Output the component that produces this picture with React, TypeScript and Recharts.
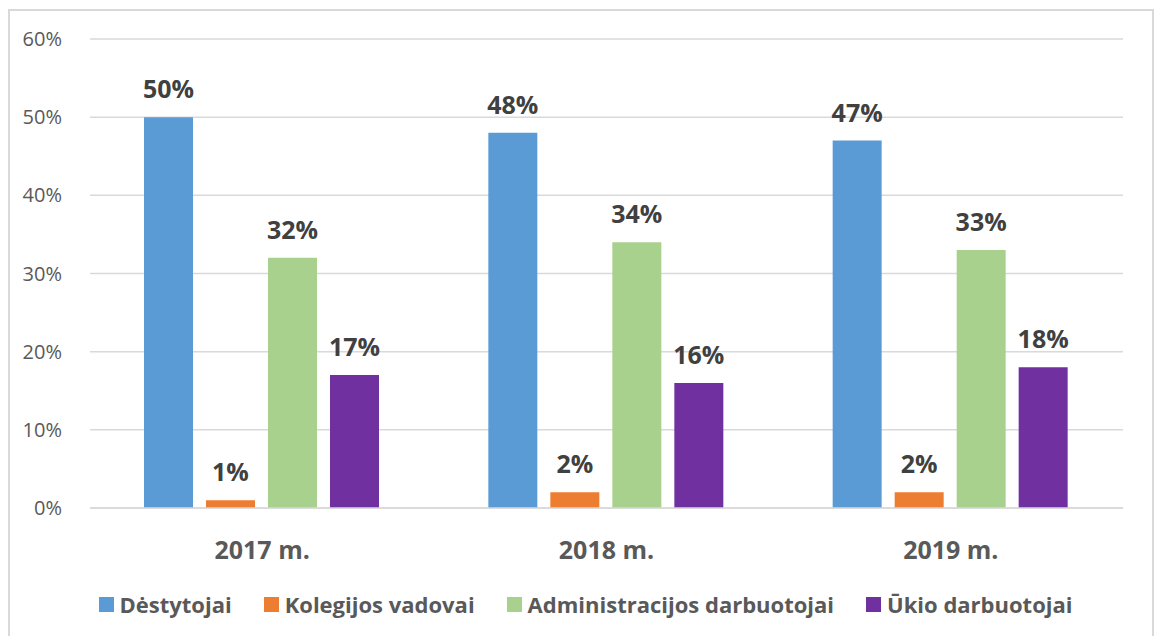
import React from 'react';
import { BarChart, Bar, XAxis, YAxis, CartesianGrid, Legend, LabelList } from 'recharts';

const years = ['2017 m.', '2018 m.', '2019 m.'];
const destytojai = [50, 48, 47];
const vadovai = [1, 2, 2];
const administracija = [32, 34, 33];
const ukis = [17, 16, 18];
const yTicks = [0, 10, 20, 30, 40, 50, 60];

const seriesDefs = [
  { key: 'destytojai', name: 'Dėstytojai', color: '#5B9BD5' },
  { key: 'vadovai', name: 'Kolegijos vadovai', color: '#ED7D31' },
  { key: 'administracija', name: 'Administracijos darbuotojai', color: '#A9D18E' },
  { key: 'ukis', name: 'Ūkio darbuotojai', color: '#7030A0' }
];

const data = years.map((year, i) => ({
  year,
  destytojai: destytojai[i],
  vadovai: vadovai[i],
  administracija: administracija[i],
  ukis: ukis[i]
}));

const font = '"Open Sans", "Noto Sans", sans-serif';

const renderLegend = () => (
  <div
    style={{
      display: 'flex',
      justifyContent: 'center',
      alignItems: 'center',
      gap: 32,
      height: 30,
      paddingLeft: 28,
      fontFamily: font
    }}
  >
    {seriesDefs.map(s => (
      <div key={s.key} style={{ display: 'flex', alignItems: 'center', gap: 6 }}>
        <span style={{ width: 15, height: 15, background: s.color, display: 'inline-block' }} />
        <span style={{ fontSize: 22, fontWeight: 700, color: '#595959', lineHeight: '30px' }}>{s.name}</span>
      </div>
    ))}
  </div>
);

export default function App() {
  return (
    <div
      style={{
        position: 'absolute',
        left: 8,
        top: 9,
        width: 1142,
        height: 640,
        border: '2px solid #d9d9d9',
        background: '#fff'
      }}
    >
      <BarChart
        width={1142}
        height={625}
        data={data}
        margin={{ top: 28, right: 29, left: 10, bottom: 17 }}
        barCategoryGap={54}
        barGap={13}
      >
        <CartesianGrid vertical={false} stroke="#d9d9d9" strokeWidth={1.5} />
        <XAxis
          dataKey="year"
          axisLine={{ stroke: '#d9d9d9', strokeWidth: 1.5 }}
          tickLine={false}
          tickMargin={27}
          height={81}
          tick={{ fontSize: 25, fontWeight: 700, fill: '#595959', fontFamily: font }}
        />
        <YAxis
          width={70}
          domain={[0, 60]}
          ticks={yTicks}
          tickFormatter={v => `${v}%`}
          axisLine={false}
          tickLine={false}
          tickMargin={22}
          tick={{ fontSize: 20, fill: '#595959', fontFamily: font }}
        />
        <Legend content={renderLegend} verticalAlign="bottom" height={30} />
        {seriesDefs.map(s => (
          <Bar key={s.key} dataKey={s.key} name={s.name} fill={s.color} isAnimationActive={false}>
            <LabelList
              dataKey={s.key}
              position="top"
              offset={19}
              formatter={(v: number) => `${v}%`}
              style={{ fontSize: 25, fontWeight: 700, fill: '#404040', fontFamily: font }}
            />
          </Bar>
        ))}
      </BarChart>
    </div>
  );
}
